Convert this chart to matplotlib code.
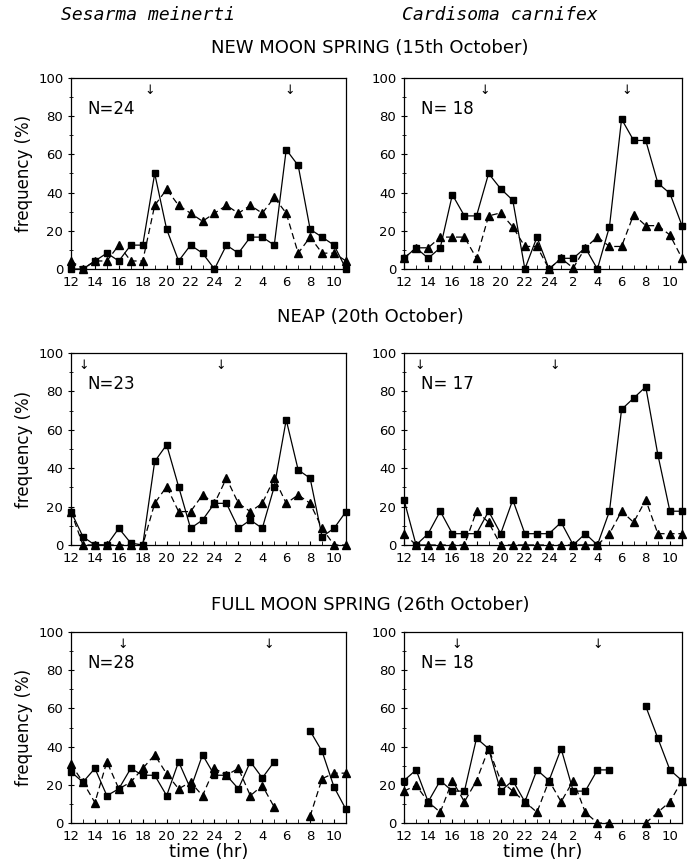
import matplotlib
matplotlib.use("Agg")
import matplotlib.pyplot as plt

# hours 12..35 (24 = midnight, 25..35 = 1..11 next day)
hours = list(range(12, 36))
tick_pos = list(range(12, 35, 2))
tick_lab = ["12", "14", "16", "18", "20", "22", "24", "2", "4", "6", "8", "10"]

species = ["Sesarma meinerti", "Cardisoma carnifex"]
phases = ["NEW MOON SPRING (15th October)", "NEAP (20th October)",
          "FULL MOON SPRING (26th October)"]
n_labels = [["N=24", "N= 18"], ["N=23", "N= 17"], ["N=28", "N= 18"]]
N = None

# squares (solid) and triangles (dashed); None = no sample
sm_new_sq = [0, 0, 4.2, 8.3, 4.2, 12.5, 12.5, 50, 20.8, 4.2, 12.5, 8.3, 0,
             12.5, 8.3, 16.7, 16.7, 12.5, 62.5, 54.2, 20.8, 16.7, 12.5, 0]
sm_new_tr = [4.2, 0, 4.2, 4.2, 12.5, 4.2, 4.2, 33.3, 41.7, 33.3, 29.2, 25, 29.2,
             33.3, 29.2, 33.3, 29.2, 37.5, 29.2, 8.3, 16.7, 8.3, 8.3, 4.2]
cc_new_sq = [5.6, 11.1, 5.6, 11.1, 38.9, 27.8, 27.8, 50, 42, 36, 0, 16.7, 0,
             5.6, 5.6, 11.1, 0, 22.2, 78.5, 67.3, 67.3, 45, 39.6, 22.7]
cc_new_tr = [5.6, 11.1, 11.1, 16.7, 16.7, 16.7, 5.6, 27.8, 29.4, 22, 11.8, 11.8,
             0, 5.6, 0.5, 11.1, 16.7, 11.8, 11.8, 28.5, 22.7, 22.7, 17.8, 5.6]
sm_neap_sq = [17.4, 4.3, 0, 0, 8.7, 1, 0, 43.5, 52.2, 30.4, 8.7, 13, 21.7,
              21.7, 8.7, 13, 8.7, 30.4, 65.2, 39.1, 34.8, 4.3, 8.7, 17.4]
sm_neap_tr = [17.4, 0, 0, 0, 0, 0, 0, 21.7, 30.4, 17.4, 17.4, 26.1, 21.7,
              34.8, 21.7, 17.4, 21.7, 34.8, 21.7, 26.1, 21.7, 8.7, 0, 0]
cc_neap_sq = [23.5, 0, 5.9, 17.6, 5.9, 5.9, 5.9, 17.6, 5.9, 23.5, 5.9, 5.9,
              5.9, 11.8, 0, 5.9, 0, 17.6, 70.6, 76.5, 82.4, 47.1, 17.6, 17.6]
cc_neap_tr = [5.9, 0, 0, 0, 0, 0, 17.6, 11.8, 0, 0, 0, 0, 0, 0, 0, 0, 0,
              5.9, 17.6, 11.8, 23.5, 5.9, 5.9, 5.9]
sm_full_sq = [26.8, 21.4, 28.6, 14.3, 17.9, 28.6, 25, 25, 14.3, 32.1, 17.9,
              35.7, 25, 25, 17.9, 32.1, 23.6, 32.1, N, N, 48.2, 37.5, 18.8, 7.1]
sm_full_tr = [30.7, 21.4, 10.7, 32.1, 17.9, 21.4, 28.6, 35.7, 25.7, 17.9, 21.4,
              14.3, 28.6, 25, 28.6, 14.3, 19.6, 8.3, N, N, 3.6, 23.2, 26.1, 26.1]
cc_full_sq = [22.2, 27.8, 11.1, 22.2, 16.7, 16.7, 44.4, 38.9, 16.7, 22.2, 11.1,
              27.8, 22.2, 38.9, 16.7, 16.7, 27.8, 27.8, N, N, 61.1, 44.4, 27.8, 22.2]
cc_full_tr = [16.7, 19.7, 11.1, 5.6, 22.2, 11.1, 22.2, 38.9, 22.2, 16.7, 11.1,
              5.6, 22.2, 11.1, 22.2, 5.6, 0, 0, N, N, 0, 5.6, 11.1, 22.2]

squares = [[sm_new_sq, cc_new_sq], [sm_neap_sq, cc_neap_sq], [sm_full_sq, cc_full_sq]]
triangles = [[sm_new_tr, cc_new_tr], [sm_neap_tr, cc_neap_tr], [sm_full_tr, cc_full_tr]]
arrows = [[[18.6, 30.25], [18.65, 30.45]],
          [[13.05, 24.5], [13.3, 24.5]],
          [[16.3, 28.5], [16.4, 28.0]]]


def nan(v):
    return [float("nan") if x is None else x for x in v]


fig = plt.figure(figsize=(6.92, 8.63), dpi=100)
W, H = 692.0, 863.0
cols = [(71, 346), (404, 682)]
rows = [(78, 269), (353, 545), (632, 823)]

for r in range(3):
    for c in range(2):
        x0, x1 = cols[c]
        y0, y1 = rows[r]
        ax = fig.add_axes([x0 / W, 1 - y1 / H, (x1 - x0) / W, (y1 - y0) / H])
        ax.plot(hours, nan(triangles[r][c]), "k--", marker="^", ms=5.5,
                lw=0.9, dashes=(5, 3), clip_on=False, zorder=3)
        ax.plot(hours, nan(squares[r][c]), "k-", marker="s", ms=5,
                lw=0.9, clip_on=False, zorder=4)
        for a in arrows[r][c]:
            ax.text(a, 97, "\u2193", fontsize=9, ha="center", va="top")
        ax.text(0.06, 0.84, n_labels[r][c], transform=ax.transAxes,
                fontsize=12, va="center")
        ax.set_xlim(12, 35)
        ax.set_ylim(0, 100)
        ax.set_xticks(hours, minor=True)
        ax.set_xticks(tick_pos)
        ax.set_xticklabels(tick_lab)
        ax.set_yticks([0, 20, 40, 60, 80, 100])
        ax.set_yticks(range(10, 100, 20), minor=True)
        ax.tick_params(axis="x", which="both", direction="in", length=3,
                       labelsize=9.5, pad=5)
        ax.tick_params(axis="y", which="major", direction="inout", length=5,
                       labelsize=9.5, pad=3)
        ax.tick_params(axis="y", which="minor", direction="inout", length=3)
        for s in ax.spines.values():
            s.set_linewidth(0.9)
        if c == 0:
            ax.set_ylabel("frequency (%)", fontsize=12, labelpad=4)
        if r == 2:
            ax.set_xlabel("time (hr)", fontsize=13, labelpad=0)

fig.text(148 / W, 1 - 15 / H, species[0], fontsize=13, style="italic",
         family="DejaVu Sans Mono", ha="center", va="center")
fig.text(500 / W, 1 - 15 / H, species[1], fontsize=13, style="italic",
         family="DejaVu Sans Mono", ha="center", va="center")
title_y = [48, 317, 605]
for r in range(3):
    fig.text(370 / W, 1 - title_y[r] / H, phases[r], fontsize=13,
             ha="center", va="center")

fig.savefig("out.png", dpi=100)
